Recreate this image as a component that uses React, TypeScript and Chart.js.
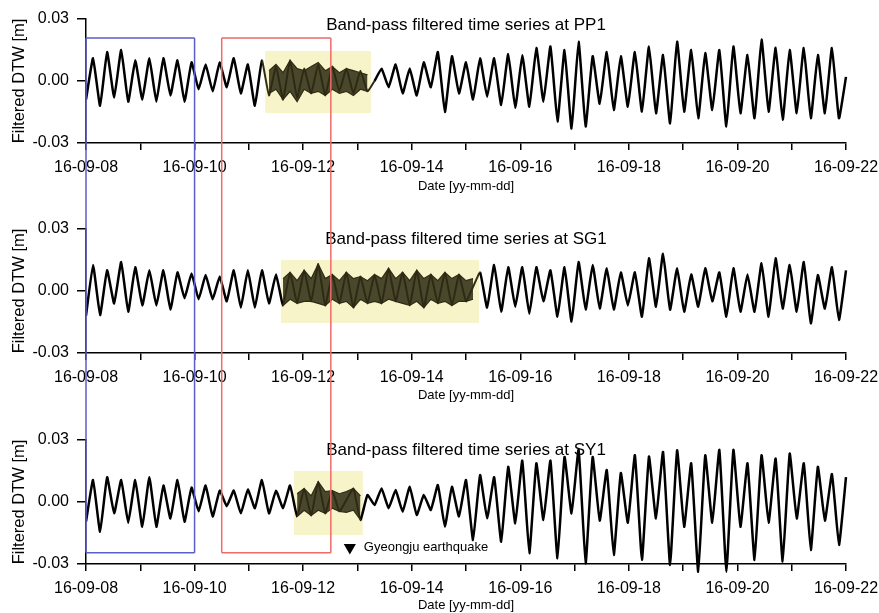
import React, { useEffect, useRef } from 'react';
import { Chart, registerables } from 'chart.js';

Chart.register(...registerables);

// ---------------- data ----------------
const stationNames = ['PP1', 'SG1', 'SY1'];
const dateTickLabels = ['16-09-08', '16-09-10', '16-09-12', '16-09-14', '16-09-16', '16-09-18', '16-09-20', '16-09-22'];
const yTickValues = [-0.03, 0, 0.03];
const SPAN_DAYS = 14; // 16-09-08 .. 16-09-22

// band-pass filtered DTW (mm) at successive extrema, evenly spaced in time over the span
const pp1Mm = [
  -9, 11, -12, 14, -8, 15, -10, 10, -9, 11, -10, 11, -7, 10, -10, 9, -4, 8, -5, 9, -3, 11, -6, 8, -12, 10,
  -7, 7, -9, 10, -8, 6, -6, 8, -7, 7, -5, 6, -6, 5, -5,
  0, 6, -3, 8, -6, 6, -7, 9, -3, 14, -15, 12, -6,
  9, -9, 11, -7.6, 11, -11.6, 13, -13, 12.5, -12.4, 16, -10, 16.7, -19.6, 15, -23, 19, -22, 12, -11, 14, -14,
  12, -12.4, 14, -14.8, 16.7, -15.6, 12.6, -20.5, 19, -14.8, 15, -18, 13.5, -14, 15, -22, 16.7, -15.6, 12.6, -18,
  20, -14.8, 16, -18.8, 15, -15.6, 16, -18, 12.6, -15.6, 16, -18, 2,
];
const sg1Mm = [
  -12, 12.6, -11.6, 10, -6, 14, -10, 11.5, -7, 10, -7, 10, -9, 9, -3.5, 8.5, -4, 7.7, -4, 7, -5, 10, -8, 10, -8, 10, -6, 8,
  -7, 9, -6, 10, -5, 13, -7, 8, -6, 9, -8, 7, -6, 8, -6, 11, -5, 9, -7, 10, -8, 8, -6, 9, -7, 8, -5, 2, 9,
  -8, 12.6, -10, 11.5, -7.6, 11.5, -11, 11.5, -5, 10, -12.4, 11.5, -14.8, 14, -9, 12.6, -8.5, 11, -9, 9, -7, 9,
  -12.4, 15.8, -7.6, 18, -9, 11, -10, 8, -7.6, 11, -5, 9, -12.4, 11, -10, 8, -10, 13.4, -12.4, 15.8, -8.5, 12.6,
  -10, 14, -15.6, 7.7, -8.5, 11.5, -14, 10,
];
const sy1Mm = [
  -9.5, 10.6, -14.4, 12, -5.5, 10.6, -10, 10.6, -12, 12, -12, 8, -8, 10.6, -9.5, 7, -4.5, 8, -7, 5.5, -2, 5.5, -5.5, 6,
  -3, 10.6, -5.5, 5.5, -3, 8,
  -7, 6.5, -6.5, 9.8, -5.5, 5.5, -4.5, 1, 6.5, -8.7, 3.4, -1.5, 6.6, -3, 5.8, -4.7, 7.4, -6.3, 3.4, -3.9, 8.2, -11.9, 7.4, -7,
  10.6, -18.4, 13, -7.9, 12, -19.2, 17, -10.3, 20, -24.8, 18.7, -8.7, 20, -27.2, 21.8, -5.5, 25.2, -29.7, 21.8, -9,
  15.5, -25.6, 14, -10, 22.6, -28, 22, -8, 24.2, -30.5, 25, -12, 18.7, -33.7, 22.6, -10, 25.2, -33.7, 25.2, -12,
  18.7, -28, 22.6, -10, 21, -28.8, 23.4, -8, 18.7, -23.2, 17, -9, 13.5, -20.8, 12,
];
const seriesMm = [pp1Mm, sg1Mm, sy1Mm];

// noisy windows highlighted in yellow: start day, end day, top (mm), bottom (mm)
const pp1NoiseWindow = [3.3, 5.25, 14.5, -15.5];
const sg1NoiseWindow = [3.59, 7.24, 15.0, -15.5];
const sy1NoiseWindow = [3.83, 5.1, 15.0, -16.0];
const noiseWindows = [pp1NoiseWindow, sg1NoiseWindow, sy1NoiseWindow];

// extent of the dense noise band (mm) at the series samples inside each yellow window
const pp1BandFirstIndex = 26;
const pp1BandTopMm = [5, 8, 4, 10, 6, 5, 7, 9, 5, 7, 4, 6, 5, 4, 3];
const pp1BandBottomMm = [-6, -4, -9, -5, -10, -4, -6, -5, -7, -4, -6, -5, -7, -4, -5];
const sg1BandFirstIndex = 28;
const sg1BandTopMm = [6, 9, 5, 10, 6, 13, 6, 8, 5, 9, 6, 7, 5, 8, 6, 11, 6, 9, 5, 10, 6, 8, 5, 9, 6, 8, 5, 6];
const sg1BandBottomMm = [-7, -4, -6, -5, -5, -6, -7, -4, -6, -5, -8, -4, -6, -5, -6, -4, -5, -6, -7, -5, -8, -4, -6, -5, -7, -5, -5, -4];
const sy1BandFirstIndex = 30;
const sy1BandTopMm = [4, 6.5, 3, 9.8, 5, 5.5, 4, 5, 6.5, 3];
const sy1BandBottomMm = [-7, -4, -6.5, -4, -5.5, -3, -4.5, -5, -4, -8.7];
const bandFirstIndex = [pp1BandFirstIndex, sg1BandFirstIndex, sy1BandFirstIndex];
const bandTopMm = [pp1BandTopMm, sg1BandTopMm, sy1BandTopMm];
const bandBottomMm = [pp1BandBottomMm, sg1BandBottomMm, sy1BandBottomMm];

// comparison windows drawn across all panels (days from 16-09-08)
const blueWindowDays = [0, 2.0];
const redWindowDays = [2.5, 4.51];
const windowTopMm = 20.8; // on PP1 panel
const windowBottomMm = -24.5; // on SY1 panel

// Gyeongju earthquake marker
const quakeDay = 4.86;
const quakeMarkerMm = -22;
const quakeLabel = 'Gyeongju earthquake';

// ---------------- layout / style ----------------
const FONT = "'Liberation Sans', Arial, Helvetica, sans-serif";
const W = 879;
const panelLayout = [
  { h: 200, areaTop: 19, xAxisH: 57, datePad: 6, titleDy: 6 },
  { h: 210, areaTop: 29, xAxisH: 57, datePad: 7, titleDy: 10 },
  { h: 203, areaTop: 30, xAxisH: 49, datePad: 0, titleDy: 10 },
];
const YELLOW = '#f8f4c9';
const OLIVE = '#2f2d15';
const OLIVE_FILL = 'rgba(44, 42, 18, 0.86)';
const BLUE = '#5a5fc6';
const RED = '#f06a6a';

const overlayPlugin = {
  id: 'overlay',
  beforeDatasetsDraw(chart: any, _a: any, o: any) {
    const { ctx, scales } = chart;
    const xs = scales.x, ys = scales.y;
    const [d0, d1, top, bot] = o.noise;
    const x0 = xs.getPixelForValue(d0), x1 = xs.getPixelForValue(d1);
    const y0 = ys.getPixelForValue(top / 1000), y1 = ys.getPixelForValue(bot / 1000);
    ctx.save();
    ctx.fillStyle = YELLOW;
    ctx.fillRect(x0, y0, x1 - x0, y1 - y0);
    ctx.restore();
  },
  afterDraw(chart: any, _a: any, o: any) {
    const { ctx, scales, chartArea } = chart;
    const xs = scales.x, ys = scales.y;
    ctx.save();
    ctx.fillStyle = '#000';
    ctx.font = `17px ${FONT}`;
    ctx.textAlign = 'center';
    ctx.textBaseline = 'middle';
    ctx.fillText(o.title, (chartArea.left + chartArea.right) / 2, chartArea.top + o.titleDy);
    const yTop = o.idx === 0 ? ys.getPixelForValue(windowTopMm / 1000) : 0;
    const yBot = o.idx === 2 ? ys.getPixelForValue(windowBottomMm / 1000) : chart.height;
    const drawWin = (days: number[], color: string) => {
      const a = xs.getPixelForValue(days[0]);
      const b = xs.getPixelForValue(days[1]);
      ctx.strokeStyle = color;
      ctx.lineWidth = 1.5;
      ctx.beginPath();
      ctx.moveTo(a, yTop); ctx.lineTo(a, yBot);
      ctx.moveTo(b, yTop); ctx.lineTo(b, yBot);
      if (o.idx === 0) { ctx.moveTo(a, yTop); ctx.lineTo(b, yTop); }
      if (o.idx === 2) { ctx.moveTo(a, yBot); ctx.lineTo(b, yBot); }
      ctx.stroke();
    };
    drawWin(blueWindowDays, BLUE);
    drawWin(redWindowDays, RED);
    if (o.idx === 2) {
      ctx.fillStyle = '#000';
      ctx.font = `13px ${FONT}`;
      ctx.textAlign = 'left';
      ctx.textBaseline = 'middle';
      ctx.fillText(quakeLabel, xs.getPixelForValue(quakeDay) + 14, ys.getPixelForValue(quakeMarkerMm / 1000));
    }
    ctx.restore();
  },
};

function Panel({ idx }: { idx: number }) {
  const ref = useRef<HTMLCanvasElement | null>(null);
  const L = panelLayout[idx];
  useEffect(() => {
    const series = seriesMm[idx];
    const n = series.length;
    const tOf = (i: number) => (i * SPAN_DAYS) / (n - 1);
    const pts = series.map((v, i) => ({ x: tOf(i), y: v / 1000 }));
    const f0 = bandFirstIndex[idx];
    const topPts = bandTopMm[idx].map((v, k) => ({ x: tOf(f0 + k), y: v / 1000 }));
    const botPts = bandBottomMm[idx].map((v, k) => ({ x: tOf(f0 + k), y: v / 1000 }));
    const win = noiseWindows[idx];
    const inNoise = (c: any) => {
      const m = (c.p0.parsed.x + c.p1.parsed.x) / 2;
      return m >= win[0] && m <= win[1];
    };
    const datasets: any[] = [
      {
        data: topPts,
        borderWidth: 1.2,
        borderColor: OLIVE,
        backgroundColor: OLIVE_FILL,
        pointRadius: 0,
        tension: 0,
        fill: '+1',
      },
      {
        data: botPts,
        borderWidth: 1.2,
        borderColor: OLIVE,
        pointRadius: 0,
        tension: 0,
        fill: false,
      },
      {
        data: pts,
        borderColor: '#000',
        borderWidth: 2.5,
        pointRadius: 0,
        tension: 0.12,
        borderJoinStyle: 'round',
        fill: false,
        clip: { left: 0, top: 12, right: 2, bottom: 12 },
        segment: {
          borderColor: (c: any) => (inNoise(c) ? OLIVE : undefined),
          borderWidth: (c: any) => (inNoise(c) ? 2 : undefined),
        },
      },
    ];
    if (idx === 2) {
      datasets.push({
        data: [{ x: quakeDay, y: quakeMarkerMm / 1000 }],
        showLine: false,
        pointStyle: 'triangle',
        pointRotation: 180,
        pointRadius: 7,
        backgroundColor: '#000',
        borderColor: '#000',
        borderWidth: 0,
        fill: false,
      });
    }
    const axisFont = { family: FONT, size: 16 };
    const chart = new Chart(ref.current as HTMLCanvasElement, {
      type: 'line',
      data: { datasets },
      plugins: [overlayPlugin],
      options: {
        animation: false,
        responsive: false,
        devicePixelRatio: 1,
        layout: { padding: { top: L.areaTop, left: 10, right: 33, bottom: 0 } },
        plugins: {
          legend: { display: false },
          tooltip: { enabled: false },
          title: { display: false },
          overlay: { idx, title: `Band-pass filtered time series at ${stationNames[idx]}`, titleDy: L.titleDy, noise: win },
        } as any,
        scales: {
          x: {
            type: 'linear',
            min: 0,
            max: SPAN_DAYS,
            ticks: {
              stepSize: 1,
              autoSkip: false,
              maxRotation: 0,
              minRotation: 0,
              padding: 8,
              color: '#000',
              font: axisFont,
              callback: (v: any) => {
                const d = Math.round(Number(v));
                return d % 2 === 0 ? dateTickLabels[d / 2] : '';
              },
            },
            grid: { display: true, drawOnChartArea: false, drawTicks: true, tickLength: 7, color: '#000', lineWidth: 1.5 },
            border: { display: true, color: '#000', width: 1.5 },
            title: {
              display: true,
              text: 'Date [yy-mm-dd]',
              color: '#000',
              font: { family: FONT, size: 13 },
              padding: { top: 0, bottom: L.datePad },
            },
            afterFit: (s: any) => { s.height = L.xAxisH; s.paddingLeft = 0; s.paddingRight = 0; },
          },
          y: {
            type: 'linear',
            min: -0.03,
            max: 0.03,
            afterBuildTicks: (s: any) => { s.ticks = yTickValues.map((v) => ({ value: v })); },
            ticks: {
              padding: 8,
              color: '#000',
              font: axisFont,
              callback: (v: any) => Number(v).toFixed(2),
            },
            grid: { display: true, drawOnChartArea: false, drawTicks: true, tickLength: 9, color: '#000', lineWidth: 1.5 },
            border: { display: true, color: '#000', width: 1.5 },
            title: {
              display: true,
              text: 'Filtered DTW [m]',
              color: '#000',
              font: { family: FONT, size: 16.5 },
              padding: 0,
            },
            afterFit: (s: any) => { s.width = 76; s.paddingTop = 0; s.paddingBottom = 0; },
          },
        } as any,
      },
    });
    return () => chart.destroy();
  }, [idx]);
  return <canvas ref={ref} width={W} height={L.h} style={{ display: 'block', width: W, height: L.h }} />;
}

export default function App() {
  return (
    <div style={{ position: 'fixed', left: 0, top: 0, width: W, height: 613, background: '#fff', overflow: 'hidden' }}>
      <Panel idx={0} />
      <Panel idx={1} />
      <Panel idx={2} />
    </div>
  );
}
